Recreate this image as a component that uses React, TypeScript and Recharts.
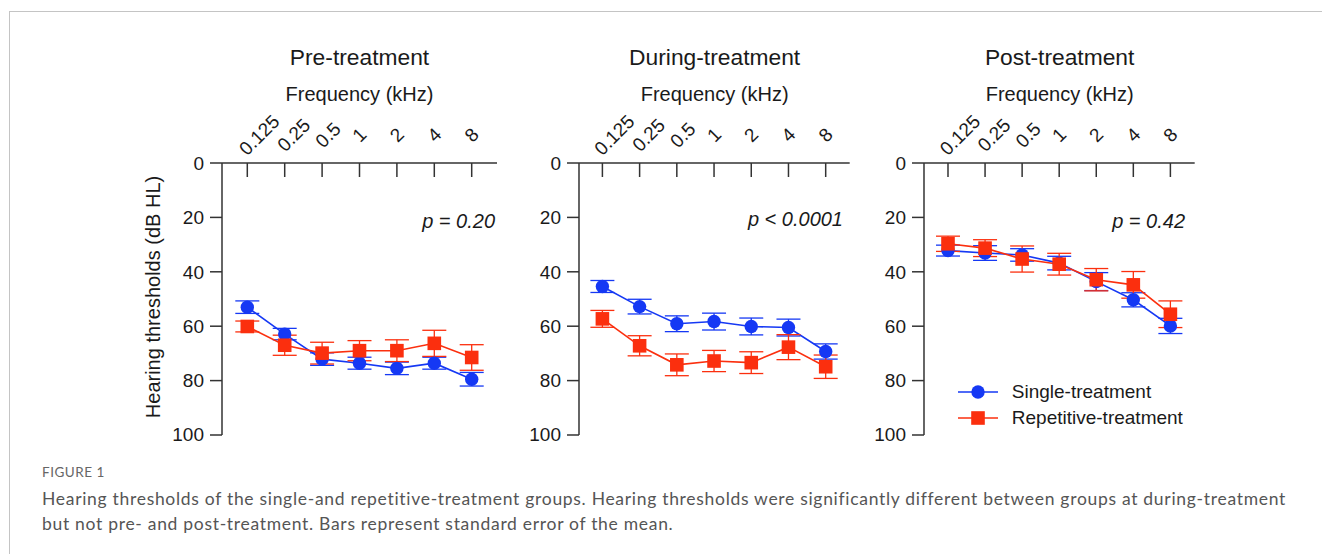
import React from 'react';
import { LineChart, Line, XAxis, YAxis, ErrorBar, Legend } from 'recharts';

// frequency categories (kHz)
const freqs = ['0.125', '0.25', '0.5', '1', '2', '4', '8'];
const yTicks = [0, 20, 40, 60, 80, 100];

// hearing thresholds (dB HL) and SEM
const preSingle = [53.0, 62.9, 72.1, 73.6, 75.5, 73.6, 79.5];
const preSingleSe = [2.3, 2.1, 2.3, 2.2, 2.3, 2.2, 2.5];
const preRepet = [60.1, 67.0, 69.9, 69.0, 69.0, 66.3, 71.5];
const preRepetSe = [2.0, 3.7, 4.0, 3.7, 4.0, 4.8, 4.7];

const duringSingle = [45.4, 52.8, 59.1, 58.3, 60.1, 60.5, 69.3];
const duringSingleSe = [2.2, 2.7, 2.9, 3.1, 3.1, 3.1, 2.8];
const duringRepet = [57.3, 67.2, 74.2, 72.8, 73.4, 67.7, 74.9];
const duringRepetSe = [3.1, 3.7, 4.0, 3.9, 4.0, 4.6, 4.3];

const postSingle = [32.2, 33.1, 33.8, 36.8, 43.6, 50.3, 59.9];
const postSingleSe = [2.0, 2.7, 2.3, 2.5, 3.3, 2.6, 2.8];
const postRepet = [29.7, 31.3, 35.3, 37.2, 42.9, 44.8, 55.6];
const postRepetSe = [2.8, 3.1, 4.8, 4.0, 4.1, 4.9, 4.9];

const titles = ['Pre-treatment', 'During-treatment', 'Post-treatment'];
const pValues = ['p = 0.20', 'p < 0.0001', 'p = 0.42'];

const BLUE = '#1538f4';
const RED = '#fb2f0e';
const AXIS = '#333333';
const TEXT = '#1a1a1a';
const FONT = '"Liberation Sans", Arial, sans-serif';
const CAPTION_FONT = 'Lato, "Open Sans", sans-serif';

const CHART_TOP = 100;
const X_AXIS_H = 63;
const CHART_H = 345;
const Y_AXIS_W = 80;

// LineChart uses a point scale, so padding is the gap between the y axis and the first/last frequency
const panels = [
  { single: preSingle, singleSe: preSingleSe, rep: preRepet, repSe: preRepetSe, plotLeft: 222, plotWidth: 275, padL: 25.3, padR: 25.3, pRight: 495, pBase: 228 },
  { single: duringSingle, singleSe: duringSingleSe, rep: duringRepet, repSe: duringRepetSe, plotLeft: 579.3, plotWidth: 270.7, padL: 23.4, padR: 24, pRight: 843, pBase: 226 },
  { single: postSingle, singleSe: postSingleSe, rep: postRepet, repSe: postRepetSe, plotLeft: 924.3, plotWidth: 270.7, padL: 24, padR: 24.3, pRight: 1185, pBase: 228 },
];

function FreqTick(props: any) {
  const { x, y, payload } = props;
  const label = String(payload.value);
  const cx = x + (label.length - 1) * 3;
  const cy = y - 28;
  return (
    <g>
      <line x1={x} y1={y} x2={x} y2={y + 14} stroke={AXIS} strokeWidth={1.5} />
      <text
        x={cx}
        y={cy}
        textAnchor="middle"
        dominantBaseline="central"
        transform={`rotate(-45 ${cx} ${cy})`}
        fontSize={19}
        fontFamily={FONT}
        fill={TEXT}
      >
        {label}
      </text>
    </g>
  );
}

function YLabel(props: any) {
  const { viewBox } = props;
  const cx = viewBox.x + 11;
  const cy = viewBox.y + viewBox.height / 2 - 2;
  return (
    <text
      x={cx}
      y={cy}
      textAnchor="middle"
      dominantBaseline="central"
      transform={`rotate(-90 ${cx} ${cy})`}
      fontSize={20}
      fontFamily={FONT}
      fill={TEXT}
    >
      Hearing thresholds (dB HL)
    </text>
  );
}

function SquareDot(props: any) {
  const { cx, cy, index } = props;
  if (cx == null || cy == null) return null;
  return <rect key={`sq-${index}`} x={cx - 6.8} y={cy - 6.8} width={13.6} height={13.6} fill={RED} />;
}

function LegendContent() {
  const rows = [
    { name: 'Single-treatment', color: BLUE, shape: 'circle' },
    { name: 'Repetitive-treatment', color: RED, shape: 'square' },
  ];
  return (
    <div style={{ fontFamily: FONT, fontSize: 19, color: TEXT }}>
      {rows.map((r) => (
        <div key={r.name} style={{ display: 'flex', alignItems: 'center', height: 26, whiteSpace: 'nowrap' }}>
          <svg width={40} height={26} style={{ marginRight: 13.5 }}>
            <line x1={0} y1={13} x2={40} y2={13} stroke={r.color} strokeWidth={1.6} />
            {r.shape === 'circle' ? (
              <circle cx={20} cy={13} r={6.7} fill={r.color} />
            ) : (
              <rect x={13.2} y={6.2} width={13.6} height={13.6} fill={r.color} />
            )}
          </svg>
          <span>{r.name}</span>
        </div>
      ))}
    </div>
  );
}

function Panel({ index }: { index: number }) {
  const cfg = panels[index];
  const data = freqs.map((f, i) => ({
    freq: f,
    single: cfg.single[i],
    singleSe: cfg.singleSe[i],
    rep: cfg.rep[i],
    repSe: cfg.repSe[i],
  }));
  const chartLeft = cfg.plotLeft - Y_AXIS_W;
  const chartWidth = Y_AXIS_W + cfg.plotWidth + 10;
  const centerX = cfg.plotLeft + cfg.plotWidth / 2;

  return (
    <>
      <div
        style={{
          position: 'absolute',
          left: centerX - 150,
          width: 300,
          top: 65 - 0.8465 * 22.8,
          textAlign: 'center',
          fontFamily: FONT,
          fontSize: 22.8,
          lineHeight: 1,
          color: TEXT,
        }}
      >
        {titles[index]}
      </div>
      <div
        style={{
          position: 'absolute',
          left: centerX - 150,
          width: 300,
          top: 100.5 - 0.8465 * 20,
          textAlign: 'center',
          fontFamily: FONT,
          fontSize: 20,
          lineHeight: 1,
          color: TEXT,
        }}
      >
        Frequency (kHz)
      </div>
      <div
        style={{
          position: 'absolute',
          left: cfg.pRight - 200,
          width: 200,
          top: cfg.pBase - 0.8465 * 20,
          textAlign: 'right',
          fontFamily: FONT,
          fontStyle: 'italic',
          fontSize: 20,
          lineHeight: 1,
          color: TEXT,
        }}
      >
        {pValues[index]}
      </div>
      <div style={{ position: 'absolute', left: chartLeft, top: CHART_TOP }}>
        <LineChart
          width={chartWidth}
          height={CHART_H}
          data={data}
          margin={{ top: 0, right: 10, bottom: 10, left: 0 }}
        >
          <XAxis
            dataKey="freq"
            orientation="top"
            type="category"
            height={X_AXIS_H}
            padding={{ left: cfg.padL, right: cfg.padR }}
            axisLine={{ stroke: AXIS, strokeWidth: 1.5 }}
            tickLine={false}
            tickSize={0}
            tickMargin={0}
            tick={<FreqTick />}
            interval={0}
          />
          <YAxis
            type="number"
            domain={[0, 100]}
            ticks={yTicks}
            reversed
            width={Y_AXIS_W}
            axisLine={{ stroke: AXIS, strokeWidth: 1.5 }}
            tickLine={{ stroke: AXIS, strokeWidth: 1.5 }}
            tickSize={12}
            tickMargin={6}
            tick={{ fontSize: 19, fontFamily: FONT, fill: TEXT }}
            label={index === 0 ? { content: YLabel } : undefined}
          />
          <Line
            dataKey="single"
            stroke={BLUE}
            strokeWidth={1.6}
            dot={{ r: 6.7, fill: BLUE, stroke: 'none' }}
            activeDot={false}
            isAnimationActive={false}
          >
            <ErrorBar dataKey="singleSe" width={12} stroke={BLUE} strokeWidth={1.3} direction="y" />
          </Line>
          <Line
            dataKey="rep"
            stroke={RED}
            strokeWidth={1.6}
            dot={SquareDot}
            activeDot={false}
            isAnimationActive={false}
          >
            <ErrorBar dataKey="repSe" width={12} stroke={RED} strokeWidth={1.3} direction="y" />
          </Line>
          {index === 2 && (
            <Legend
              layout="horizontal"
              verticalAlign="middle"
              align="center"
              content={<LegendContent />}
              wrapperStyle={{ left: 958.3 - chartLeft, top: 378.7 - CHART_TOP, width: 'auto' }}
            />
          )}
        </LineChart>
      </div>
    </>
  );
}

export default function App() {
  return (
    <div
      style={{
        position: 'absolute',
        left: 0,
        top: 0,
        width: 1322,
        height: 554,
        overflow: 'hidden',
        background: '#fff',
      }}
    >
      <div
        style={{
          position: 'absolute',
          left: 9,
          top: 11,
          width: 1400,
          height: 600,
          borderTop: '1.5px solid #c4c4c4',
          borderLeft: '1.5px solid #c4c4c4',
        }}
      />
      <Panel index={0} />
      <Panel index={1} />
      <Panel index={2} />
      <div
        style={{
          position: 'absolute',
          left: 42,
          top: 466,
          fontFamily: CAPTION_FONT,
          fontSize: 13.5,
          letterSpacing: 0.5,
          color: '#666',
          lineHeight: 1,
        }}
      >
        FIGURE 1
      </div>
      <div
        style={{
          position: 'absolute',
          left: 42,
          top: 486,
          fontFamily: CAPTION_FONT,
          fontSize: 17.5,
          letterSpacing: 0.7,
          color: '#555',
          lineHeight: '25px',
          whiteSpace: 'nowrap',
        }}
      >
        <div>
          Hearing thresholds of the single-and repetitive-treatment groups. Hearing thresholds were significantly different between groups at during-treatment
        </div>
        <div>but not pre- and post-treatment. Bars represent standard error of the mean.</div>
      </div>
    </div>
  );
}
